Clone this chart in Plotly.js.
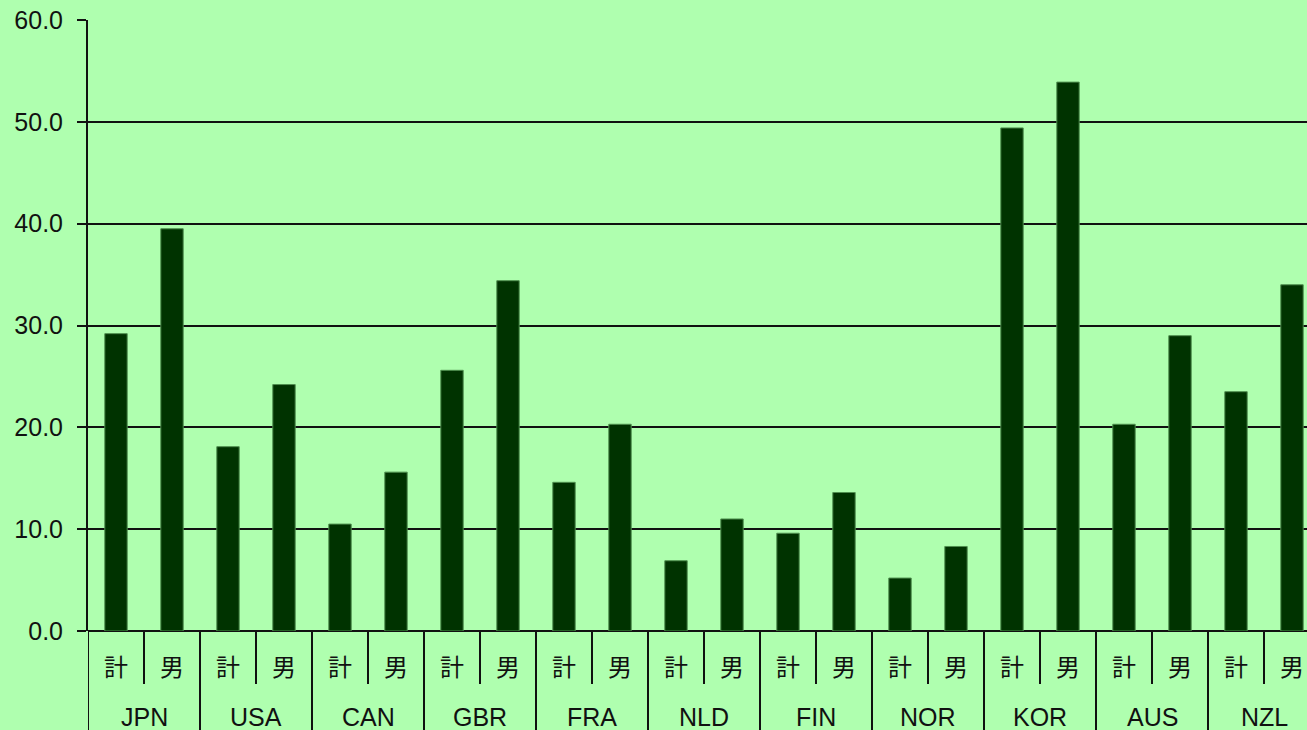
<!DOCTYPE html>
<html>
<head>
<meta charset="utf-8">
<script src="https://cdn.plot.ly/plotly-3.0.1.min.js"></script>
<style>
html, body { margin: 0; padding: 0; overflow: hidden; background: #AFFFAF; }
#chart { width: 1320px; height: 730px; }
</style>
</head>
<body>
<div id="chart"></div>
<script>
const countries = ["JPN", "USA", "CAN", "GBR", "FRA", "NLD", "FIN", "NOR", "KOR", "AUS", "NZL"];
const groups = ["計", "男"];
const totalValues = [29.2, 18.1, 10.5, 25.6, 14.6, 6.9, 9.6, 5.2, 49.4, 20.3, 23.5];
const maleValues  = [39.5, 24.2, 15.6, 34.4, 20.3, 11.0, 13.6, 8.3, 53.9, 29.0, 34.0];
const yTickVals = [0, 10, 20, 30, 40, 50, 60];
const yTickText = ["0.0", "10.0", "20.0", "30.0", "40.0", "50.0", "60.0"];

const PLOT_H = 611; // plot area height in px (for paper-fraction conversions)
const xKeys = [], xText = [], yVals = [];
countries.forEach((c, i) => {
  xKeys.push(c + "|" + groups[0]); xText.push(groups[0]); yVals.push(totalValues[i]);
  xKeys.push(c + "|" + groups[1]); xText.push(groups[1]); yVals.push(maleValues[i]);
});

const trace = {
  type: "bar",
  x: xKeys,
  y: yVals,
  marker: { color: "#003300", line: { color: "#4f8f4f", width: 1 } },
  hoverinfo: "y"
};

const shapes = [];
const annotations = [];
countries.forEach((c, i) => {
  // sub-category divider between 計 and 男
  shapes.push({ type: "line", xref: "x", yref: "paper", x0: 2 * i + 0.5, x1: 2 * i + 0.5,
    y0: 0, y1: -53 / PLOT_H, line: { color: "#111111", width: 2 } });
  // country label
  annotations.push({ xref: "x", yref: "paper", x: 2 * i + 0.5, y: -86 / PLOT_H,
    text: c, showarrow: false, yanchor: "middle", xanchor: "center",
    font: { family: "Liberation Sans, Arial, sans-serif", size: 25, color: "#111111" } });
});
for (let i = 0; i <= countries.length; i++) {
  shapes.push({ type: "line", xref: "x", yref: "paper", x0: 2 * i - 0.5, x1: 2 * i - 0.5,
    y0: 0, y1: -110 / PLOT_H, line: { color: "#111111", width: 2 } });
}

const layout = {
  width: 1320,
  height: 730,
  margin: { l: 88, r: 0, t: 20, b: 99 },
  paper_bgcolor: "#AFFFAF",
  plot_bgcolor: "#AFFFAF",
  bargap: 0.6,
  showlegend: false,
  font: { family: "Liberation Sans, Arial, Noto Sans CJK JP, sans-serif", size: 25, color: "#111111" },
  xaxis: {
    type: "category",
    range: [-0.5, 2 * countries.length - 0.5],
    tickvals: xKeys,
    ticktext: xText,
    ticks: "",
    showline: false,
    showgrid: false,
    ticklabelstandoff: 20,
    tickfont: { family: "Noto Sans CJK JP, sans-serif", size: 24, color: "#111111" }
  },
  yaxis: {
    range: [0, 60],
    tickvals: yTickVals,
    ticktext: yTickText,
    showgrid: true,
    gridcolor: "#111111",
    gridwidth: 2,
    zeroline: true,
    zerolinecolor: "#111111",
    zerolinewidth: 2,
    showline: true,
    linecolor: "#111111",
    linewidth: 2,
    ticks: "outside",
    ticklen: 9,
    tickwidth: 2,
    tickcolor: "#111111",
    ticklabelstandoff: 9,
    tickfont: { family: "Liberation Sans, Arial, sans-serif", size: 25, color: "#111111" }
  },
  shapes: shapes,
  annotations: annotations
};

Plotly.newPlot("chart", [trace], layout, { displayModeBar: false, staticPlot: true });
</script>
</body>
</html>
